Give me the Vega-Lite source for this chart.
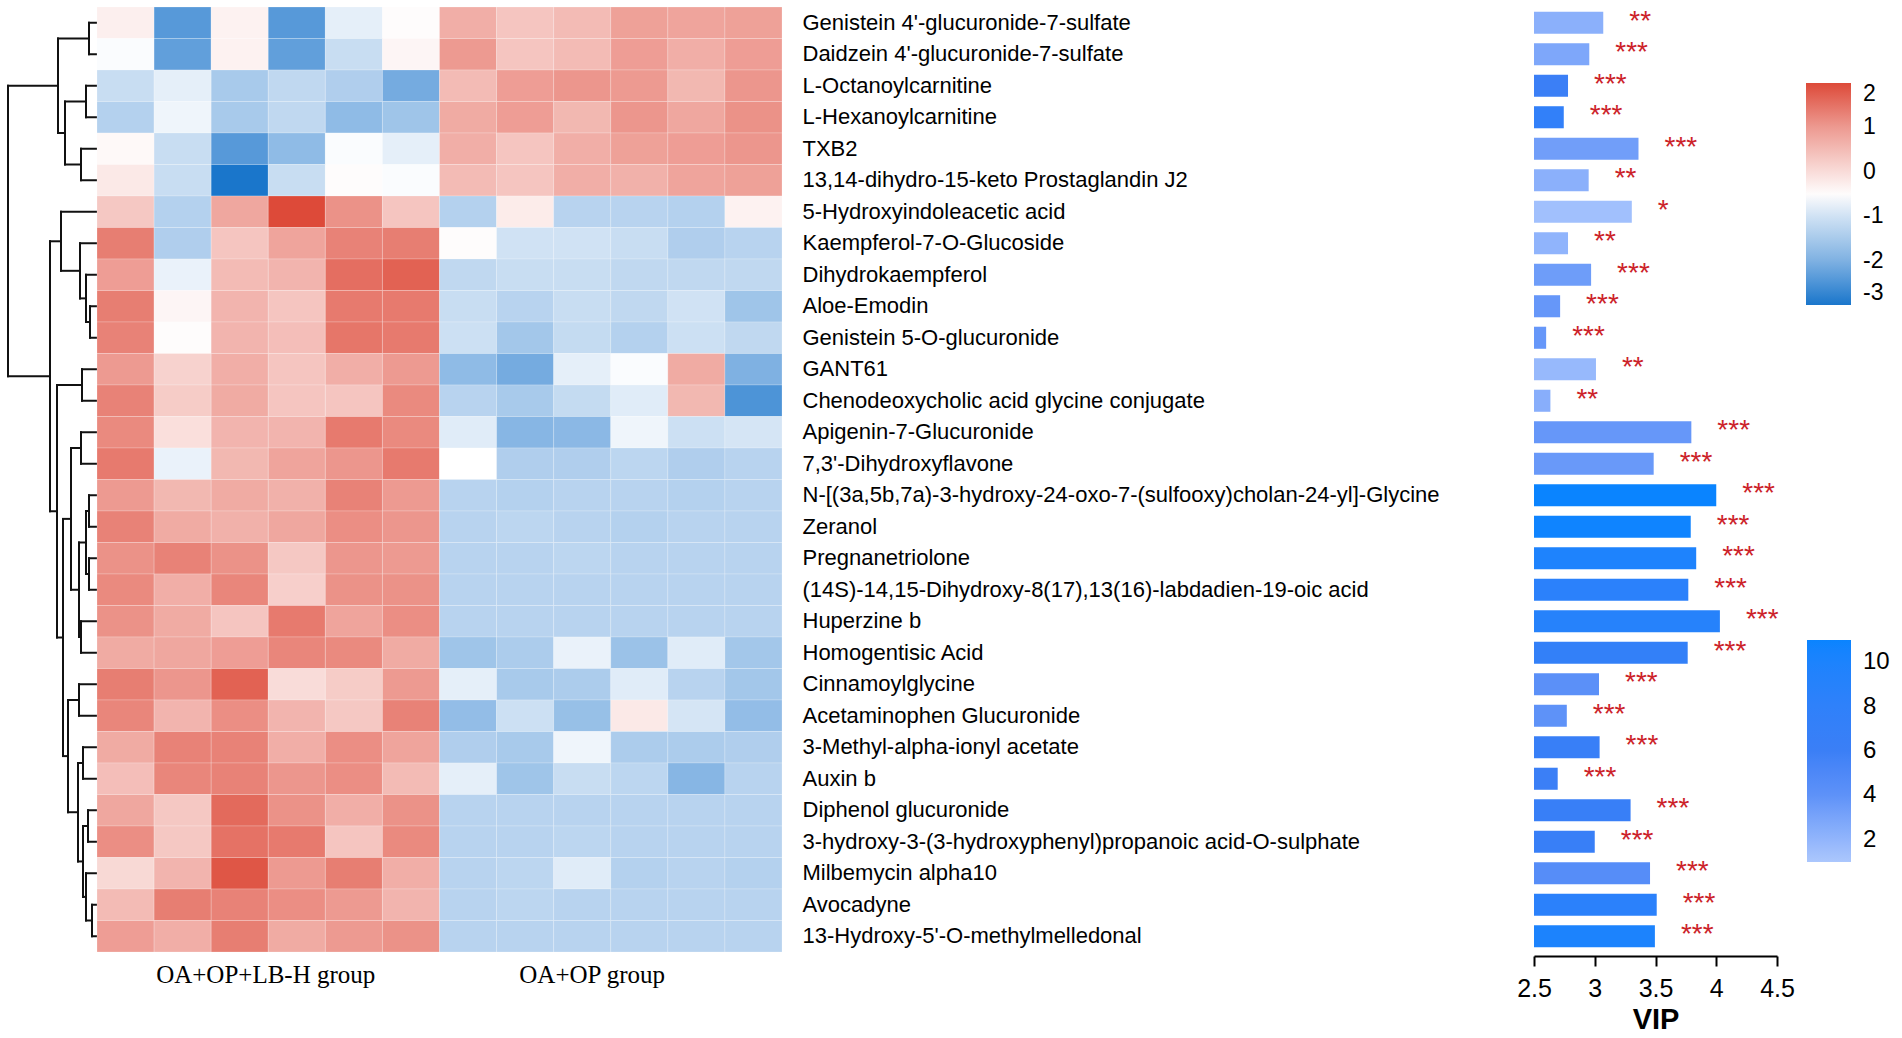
{
"$schema": "https://vega.github.io/schema/vega-lite/v6.json",
"background": "white",
"padding": {"left": 6, "top": 6, "right": 0, "bottom": 0},
"config": {"view": {"stroke": null}, "font": "Liberation Sans"},
"datasets": {
"vip": [
{"r":1,"name":"Genistein 4'-glucuronide-7-sulfate","vip":3.07,"c":2.3,"sig":"**"},
{"r":2,"name":"Daidzein 4'-glucuronide-7-sulfate","vip":2.955,"c":2.8,"sig":"***"},
{"r":3,"name":"L-Octanoylcarnitine","vip":2.78,"c":6,"sig":"***"},
{"r":4,"name":"L-Hexanoylcarnitine","vip":2.745,"c":7.5,"sig":"***"},
{"r":5,"name":"TXB2","vip":3.36,"c":3.3,"sig":"***"},
{"r":6,"name":"13,14-dihydro-15-keto Prostaglandin J2","vip":2.95,"c":2.3,"sig":"**"},
{"r":7,"name":"5-Hydroxyindoleacetic acid","vip":3.305,"c":1.4,"sig":"*"},
{"r":8,"name":"Kaempferol-7-O-Glucoside","vip":2.78,"c":2.1,"sig":"**"},
{"r":9,"name":"Dihydrokaempferol","vip":2.97,"c":3.4,"sig":"***"},
{"r":10,"name":"Aloe-Emodin","vip":2.715,"c":3.7,"sig":"***"},
{"r":11,"name":"Genistein 5-O-glucuronide","vip":2.6,"c":3.7,"sig":"***"},
{"r":12,"name":"GANT61","vip":3.01,"c":1.8,"sig":"**"},
{"r":13,"name":"Chenodeoxycholic acid glycine conjugate","vip":2.635,"c":2.4,"sig":"**"},
{"r":14,"name":"Apigenin-7-Glucuronide","vip":3.795,"c":3.7,"sig":"***"},
{"r":15,"name":"7,3'-Dihydroxyflavone","vip":3.485,"c":3.6,"sig":"***"},
{"r":16,"name":"N-[(3a,5b,7a)-3-hydroxy-24-oxo-7-(sulfooxy)cholan-24-yl]-Glycine","vip":4.0,"c":11,"sig":"***"},
{"r":17,"name":"Zeranol","vip":3.79,"c":10.8,"sig":"***"},
{"r":18,"name":"Pregnanetriolone","vip":3.835,"c":9.8,"sig":"***"},
{"r":19,"name":"(14S)-14,15-Dihydroxy-8(17),13(16)-labdadien-19-oic acid","vip":3.77,"c":8.5,"sig":"***"},
{"r":20,"name":"Huperzine b","vip":4.03,"c":9,"sig":"***"},
{"r":21,"name":"Homogentisic Acid","vip":3.765,"c":7.3,"sig":"***"},
{"r":22,"name":"Cinnamoylglycine","vip":3.035,"c":4.2,"sig":"***"},
{"r":23,"name":"Acetaminophen Glucuronide","vip":2.77,"c":4,"sig":"***"},
{"r":24,"name":"3-Methyl-alpha-ionyl acetate","vip":3.04,"c":6.5,"sig":"***"},
{"r":25,"name":"Auxin b","vip":2.695,"c":6,"sig":"***"},
{"r":26,"name":"Diphenol glucuronide","vip":3.295,"c":6.5,"sig":"***"},
{"r":27,"name":"3-hydroxy-3-(3-hydroxyphenyl)propanoic acid-O-sulphate","vip":3.0,"c":6.5,"sig":"***"},
{"r":28,"name":"Milbemycin alpha10","vip":3.455,"c":4.5,"sig":"***"},
{"r":29,"name":"Avocadyne","vip":3.51,"c":8.5,"sig":"***"},
{"r":30,"name":"13-Hydroxy-5'-O-methylmelledonal","vip":3.495,"c":10,"sig":"***"}
],
"heat": [
{"r":1,"s":"H1","v":-0.3},{"r":1,"s":"H2","v":-2.4},{"r":1,"s":"H3","v":-0.35},{"r":1,"s":"H4","v":-2.4},{"r":1,"s":"H5","v":-0.8},{"r":1,"s":"H6","v":-0.5},{"r":1,"s":"M1","v":0.7},{"r":1,"s":"M2","v":0.35},{"r":1,"s":"M3","v":0.5},{"r":1,"s":"M4","v":0.9},{"r":1,"s":"M5","v":0.85},{"r":1,"s":"M6","v":0.9},
{"r":2,"s":"H1","v":-0.6},{"r":2,"s":"H2","v":-2.3},{"r":2,"s":"H3","v":-0.35},{"r":2,"s":"H4","v":-2.3},{"r":2,"s":"H5","v":-1.1},{"r":2,"s":"H6","v":-0.4},{"r":2,"s":"M1","v":1.0},{"r":2,"s":"M2","v":0.35},{"r":2,"s":"M3","v":0.5},{"r":2,"s":"M4","v":0.95},{"r":2,"s":"M5","v":0.7},{"r":2,"s":"M6","v":0.95},
{"r":3,"s":"H1","v":-1.1},{"r":3,"s":"H2","v":-0.8},{"r":3,"s":"H3","v":-1.5},{"r":3,"s":"H4","v":-1.2},{"r":3,"s":"H5","v":-1.4},{"r":3,"s":"H6","v":-2.1},{"r":3,"s":"M1","v":0.5},{"r":3,"s":"M2","v":0.95},{"r":3,"s":"M3","v":1.05},{"r":3,"s":"M4","v":1.0},{"r":3,"s":"M5","v":0.55},{"r":3,"s":"M6","v":1.05},
{"r":4,"s":"H1","v":-1.35},{"r":4,"s":"H2","v":-0.7},{"r":4,"s":"H3","v":-1.5},{"r":4,"s":"H4","v":-1.2},{"r":4,"s":"H5","v":-1.8},{"r":4,"s":"H6","v":-1.6},{"r":4,"s":"M1","v":0.75},{"r":4,"s":"M2","v":0.95},{"r":4,"s":"M3","v":0.55},{"r":4,"s":"M4","v":1.05},{"r":4,"s":"M5","v":0.8},{"r":4,"s":"M6","v":1.1},
{"r":5,"s":"H1","v":-0.45},{"r":5,"s":"H2","v":-1.1},{"r":5,"s":"H3","v":-2.4},{"r":5,"s":"H4","v":-1.8},{"r":5,"s":"H5","v":-0.6},{"r":5,"s":"H6","v":-0.8},{"r":5,"s":"M1","v":0.7},{"r":5,"s":"M2","v":0.35},{"r":5,"s":"M3","v":0.7},{"r":5,"s":"M4","v":0.9},{"r":5,"s":"M5","v":0.95},{"r":5,"s":"M6","v":1.05},
{"r":6,"s":"H1","v":-0.2},{"r":6,"s":"H2","v":-1.1},{"r":6,"s":"H3","v":-3.0},{"r":6,"s":"H4","v":-1.1},{"r":6,"s":"H5","v":-0.5},{"r":6,"s":"H6","v":-0.6},{"r":6,"s":"M1","v":0.5},{"r":6,"s":"M2","v":0.35},{"r":6,"s":"M3","v":0.7},{"r":6,"s":"M4","v":0.65},{"r":6,"s":"M5","v":0.85},{"r":6,"s":"M6","v":0.9},
{"r":7,"s":"H1","v":0.3},{"r":7,"s":"H2","v":-1.35},{"r":7,"s":"H3","v":0.8},{"r":7,"s":"H4","v":2.0},{"r":7,"s":"H5","v":1.1},{"r":7,"s":"H6","v":0.35},{"r":7,"s":"M1","v":-1.35},{"r":7,"s":"M2","v":-0.25},{"r":7,"s":"M3","v":-1.3},{"r":7,"s":"M4","v":-1.3},{"r":7,"s":"M5","v":-1.35},{"r":7,"s":"M6","v":-0.35},
{"r":8,"s":"H1","v":1.35},{"r":8,"s":"H2","v":-1.4},{"r":8,"s":"H3","v":0.35},{"r":8,"s":"H4","v":0.85},{"r":8,"s":"H5","v":1.3},{"r":8,"s":"H6","v":1.35},{"r":8,"s":"M1","v":-0.5},{"r":8,"s":"M2","v":-1.0},{"r":8,"s":"M3","v":-1.0},{"r":8,"s":"M4","v":-1.1},{"r":8,"s":"M5","v":-1.4},{"r":8,"s":"M6","v":-1.3},
{"r":9,"s":"H1","v":0.95},{"r":9,"s":"H2","v":-0.75},{"r":9,"s":"H3","v":0.5},{"r":9,"s":"H4","v":0.6},{"r":9,"s":"H5","v":1.55},{"r":9,"s":"H6","v":1.7},{"r":9,"s":"M1","v":-1.2},{"r":9,"s":"M2","v":-1.1},{"r":9,"s":"M3","v":-1.1},{"r":9,"s":"M4","v":-1.2},{"r":9,"s":"M5","v":-1.2},{"r":9,"s":"M6","v":-1.2},
{"r":10,"s":"H1","v":1.35},{"r":10,"s":"H2","v":-0.4},{"r":10,"s":"H3","v":0.6},{"r":10,"s":"H4","v":0.35},{"r":10,"s":"H5","v":1.4},{"r":10,"s":"H6","v":1.4},{"r":10,"s":"M1","v":-1.1},{"r":10,"s":"M2","v":-1.3},{"r":10,"s":"M3","v":-1.1},{"r":10,"s":"M4","v":-1.2},{"r":10,"s":"M5","v":-1.0},{"r":10,"s":"M6","v":-1.6},
{"r":11,"s":"H1","v":1.3},{"r":11,"s":"H2","v":-0.5},{"r":11,"s":"H3","v":0.6},{"r":11,"s":"H4","v":0.45},{"r":11,"s":"H5","v":1.45},{"r":11,"s":"H6","v":1.4},{"r":11,"s":"M1","v":-1.05},{"r":11,"s":"M2","v":-1.55},{"r":11,"s":"M3","v":-1.15},{"r":11,"s":"M4","v":-1.35},{"r":11,"s":"M5","v":-1.05},{"r":11,"s":"M6","v":-1.2},
{"r":12,"s":"H1","v":1.0},{"r":12,"s":"H2","v":0.15},{"r":12,"s":"H3","v":0.7},{"r":12,"s":"H4","v":0.35},{"r":12,"s":"H5","v":0.7},{"r":12,"s":"H6","v":1.0},{"r":12,"s":"M1","v":-1.8},{"r":12,"s":"M2","v":-2.1},{"r":12,"s":"M3","v":-0.8},{"r":12,"s":"M4","v":-0.6},{"r":12,"s":"M5","v":0.75},{"r":12,"s":"M6","v":-2.0},
{"r":13,"s":"H1","v":1.3},{"r":13,"s":"H2","v":0.25},{"r":13,"s":"H3","v":0.75},{"r":13,"s":"H4","v":0.35},{"r":13,"s":"H5","v":0.35},{"r":13,"s":"H6","v":1.2},{"r":13,"s":"M1","v":-1.3},{"r":13,"s":"M2","v":-1.5},{"r":13,"s":"M3","v":-1.15},{"r":13,"s":"M4","v":-0.85},{"r":13,"s":"M5","v":0.55},{"r":13,"s":"M6","v":-2.5},
{"r":14,"s":"H1","v":1.2},{"r":14,"s":"H2","v":-0.05},{"r":14,"s":"H3","v":0.6},{"r":14,"s":"H4","v":0.6},{"r":14,"s":"H5","v":1.4},{"r":14,"s":"H6","v":1.2},{"r":14,"s":"M1","v":-0.85},{"r":14,"s":"M2","v":-1.9},{"r":14,"s":"M3","v":-1.85},{"r":14,"s":"M4","v":-0.7},{"r":14,"s":"M5","v":-1.05},{"r":14,"s":"M6","v":-0.95},
{"r":15,"s":"H1","v":1.4},{"r":15,"s":"H2","v":-0.75},{"r":15,"s":"H3","v":0.55},{"r":15,"s":"H4","v":0.85},{"r":15,"s":"H5","v":1.05},{"r":15,"s":"H6","v":1.4},{"r":15,"s":"M1","v":-0.55},{"r":15,"s":"M2","v":-1.4},{"r":15,"s":"M3","v":-1.4},{"r":15,"s":"M4","v":-1.25},{"r":15,"s":"M5","v":-1.4},{"r":15,"s":"M6","v":-1.3},
{"r":16,"s":"H1","v":1.0},{"r":16,"s":"H2","v":0.55},{"r":16,"s":"H3","v":0.75},{"r":16,"s":"H4","v":0.65},{"r":16,"s":"H5","v":1.3},{"r":16,"s":"H6","v":1.0},{"r":16,"s":"M1","v":-1.3},{"r":16,"s":"M2","v":-1.35},{"r":16,"s":"M3","v":-1.3},{"r":16,"s":"M4","v":-1.3},{"r":16,"s":"M5","v":-1.35},{"r":16,"s":"M6","v":-1.3},
{"r":17,"s":"H1","v":1.3},{"r":17,"s":"H2","v":0.75},{"r":17,"s":"H3","v":0.65},{"r":17,"s":"H4","v":0.8},{"r":17,"s":"H5","v":1.15},{"r":17,"s":"H6","v":1.05},{"r":17,"s":"M1","v":-1.3},{"r":17,"s":"M2","v":-1.25},{"r":17,"s":"M3","v":-1.3},{"r":17,"s":"M4","v":-1.35},{"r":17,"s":"M5","v":-1.3},{"r":17,"s":"M6","v":-1.3},
{"r":18,"s":"H1","v":1.1},{"r":18,"s":"H2","v":1.3},{"r":18,"s":"H3","v":1.1},{"r":18,"s":"H4","v":0.3},{"r":18,"s":"H5","v":1.05},{"r":18,"s":"H6","v":1.0},{"r":18,"s":"M1","v":-1.3},{"r":18,"s":"M2","v":-1.3},{"r":18,"s":"M3","v":-1.25},{"r":18,"s":"M4","v":-1.3},{"r":18,"s":"M5","v":-1.3},{"r":18,"s":"M6","v":-1.3},
{"r":19,"s":"H1","v":1.2},{"r":19,"s":"H2","v":0.7},{"r":19,"s":"H3","v":1.25},{"r":19,"s":"H4","v":0.2},{"r":19,"s":"H5","v":1.1},{"r":19,"s":"H6","v":1.1},{"r":19,"s":"M1","v":-1.3},{"r":19,"s":"M2","v":-1.3},{"r":19,"s":"M3","v":-1.3},{"r":19,"s":"M4","v":-1.3},{"r":19,"s":"M5","v":-1.3},{"r":19,"s":"M6","v":-1.3},
{"r":20,"s":"H1","v":1.1},{"r":20,"s":"H2","v":0.75},{"r":20,"s":"H3","v":0.35},{"r":20,"s":"H4","v":1.4},{"r":20,"s":"H5","v":0.85},{"r":20,"s":"H6","v":1.15},{"r":20,"s":"M1","v":-1.3},{"r":20,"s":"M2","v":-1.3},{"r":20,"s":"M3","v":-1.3},{"r":20,"s":"M4","v":-1.3},{"r":20,"s":"M5","v":-1.3},{"r":20,"s":"M6","v":-1.3},
{"r":21,"s":"H1","v":0.75},{"r":21,"s":"H2","v":0.8},{"r":21,"s":"H3","v":0.95},{"r":21,"s":"H4","v":1.25},{"r":21,"s":"H5","v":1.2},{"r":21,"s":"H6","v":0.75},{"r":21,"s":"M1","v":-1.6},{"r":21,"s":"M2","v":-1.45},{"r":21,"s":"M3","v":-0.75},{"r":21,"s":"M4","v":-1.65},{"r":21,"s":"M5","v":-0.85},{"r":21,"s":"M6","v":-1.55},
{"r":22,"s":"H1","v":1.35},{"r":22,"s":"H2","v":1.05},{"r":22,"s":"H3","v":1.7},{"r":22,"s":"H4","v":0.0},{"r":22,"s":"H5","v":0.25},{"r":22,"s":"H6","v":1.0},{"r":22,"s":"M1","v":-0.8},{"r":22,"s":"M2","v":-1.5},{"r":22,"s":"M3","v":-1.45},{"r":22,"s":"M4","v":-0.85},{"r":22,"s":"M5","v":-1.3},{"r":22,"s":"M6","v":-1.55},
{"r":23,"s":"H1","v":1.25},{"r":23,"s":"H2","v":0.6},{"r":23,"s":"H3","v":1.15},{"r":23,"s":"H4","v":0.6},{"r":23,"s":"H5","v":0.3},{"r":23,"s":"H6","v":1.3},{"r":23,"s":"M1","v":-1.75},{"r":23,"s":"M2","v":-1.05},{"r":23,"s":"M3","v":-1.7},{"r":23,"s":"M4","v":-0.2},{"r":23,"s":"M5","v":-0.95},{"r":23,"s":"M6","v":-1.75},
{"r":24,"s":"H1","v":0.75},{"r":24,"s":"H2","v":1.3},{"r":24,"s":"H3","v":1.3},{"r":24,"s":"H4","v":0.7},{"r":24,"s":"H5","v":1.15},{"r":24,"s":"H6","v":0.85},{"r":24,"s":"M1","v":-1.4},{"r":24,"s":"M2","v":-1.5},{"r":24,"s":"M3","v":-0.7},{"r":24,"s":"M4","v":-1.45},{"r":24,"s":"M5","v":-1.45},{"r":24,"s":"M6","v":-1.4},
{"r":25,"s":"H1","v":0.45},{"r":25,"s":"H2","v":1.25},{"r":25,"s":"H3","v":1.3},{"r":25,"s":"H4","v":1.05},{"r":25,"s":"H5","v":1.15},{"r":25,"s":"H6","v":0.5},{"r":25,"s":"M1","v":-0.8},{"r":25,"s":"M2","v":-1.6},{"r":25,"s":"M3","v":-1.1},{"r":25,"s":"M4","v":-1.25},{"r":25,"s":"M5","v":-1.9},{"r":25,"s":"M6","v":-1.3},
{"r":26,"s":"H1","v":0.8},{"r":26,"s":"H2","v":0.3},{"r":26,"s":"H3","v":1.6},{"r":26,"s":"H4","v":1.1},{"r":26,"s":"H5","v":0.7},{"r":26,"s":"H6","v":1.1},{"r":26,"s":"M1","v":-1.3},{"r":26,"s":"M2","v":-1.3},{"r":26,"s":"M3","v":-1.3},{"r":26,"s":"M4","v":-1.3},{"r":26,"s":"M5","v":-1.3},{"r":26,"s":"M6","v":-1.3},
{"r":27,"s":"H1","v":1.15},{"r":27,"s":"H2","v":0.3},{"r":27,"s":"H3","v":1.5},{"r":27,"s":"H4","v":1.4},{"r":27,"s":"H5","v":0.35},{"r":27,"s":"H6","v":1.2},{"r":27,"s":"M1","v":-1.3},{"r":27,"s":"M2","v":-1.3},{"r":27,"s":"M3","v":-1.25},{"r":27,"s":"M4","v":-1.3},{"r":27,"s":"M5","v":-1.3},{"r":27,"s":"M6","v":-1.3},
{"r":28,"s":"H1","v":0.05},{"r":28,"s":"H2","v":0.6},{"r":28,"s":"H3","v":1.85},{"r":28,"s":"H4","v":1.0},{"r":28,"s":"H5","v":1.35},{"r":28,"s":"H6","v":0.7},{"r":28,"s":"M1","v":-1.3},{"r":28,"s":"M2","v":-1.25},{"r":28,"s":"M3","v":-0.85},{"r":28,"s":"M4","v":-1.35},{"r":28,"s":"M5","v":-1.3},{"r":28,"s":"M6","v":-1.35},
{"r":29,"s":"H1","v":0.5},{"r":29,"s":"H2","v":1.35},{"r":29,"s":"H3","v":1.3},{"r":29,"s":"H4","v":1.15},{"r":29,"s":"H5","v":1.0},{"r":29,"s":"H6","v":0.6},{"r":29,"s":"M1","v":-1.3},{"r":29,"s":"M2","v":-1.25},{"r":29,"s":"M3","v":-1.3},{"r":29,"s":"M4","v":-1.3},{"r":29,"s":"M5","v":-1.3},{"r":29,"s":"M6","v":-1.3},
{"r":30,"s":"H1","v":0.95},{"r":30,"s":"H2","v":0.7},{"r":30,"s":"H3","v":1.35},{"r":30,"s":"H4","v":0.75},{"r":30,"s":"H5","v":1.0},{"r":30,"s":"H6","v":1.1},{"r":30,"s":"M1","v":-1.3},{"r":30,"s":"M2","v":-1.3},{"r":30,"s":"M3","v":-1.3},{"r":30,"s":"M4","v":-1.3},{"r":30,"s":"M5","v":-1.3},{"r":30,"s":"M6","v":-1.3}
],
"dendro": [
{"h":8,"h2":8,"y":0.5,"y2":1.5},{"h":8,"h2":0,"y":0.5,"y2":0.5},{"h":8,"h2":0,"y":1.5,"y2":1.5},
{"h":11,"h2":11,"y":2.5,"y2":3.5},{"h":11,"h2":0,"y":2.5,"y2":2.5},{"h":11,"h2":0,"y":3.5,"y2":3.5},
{"h":16,"h2":16,"y":4.5,"y2":5.5},{"h":16,"h2":0,"y":4.5,"y2":4.5},{"h":16,"h2":0,"y":5.5,"y2":5.5},
{"h":32,"h2":32,"y":3.0,"y2":5.0},{"h":32,"h2":11,"y":3.0,"y2":3.0},{"h":32,"h2":16,"y":5.0,"y2":5.0},
{"h":39,"h2":39,"y":1.0,"y2":4.0},{"h":39,"h2":8,"y":1.0,"y2":1.0},{"h":39,"h2":32,"y":4.0,"y2":4.0},
{"h":7,"h2":7,"y":9.5,"y2":10.5},{"h":7,"h2":0,"y":9.5,"y2":9.5},{"h":7,"h2":0,"y":10.5,"y2":10.5},
{"h":11,"h2":11,"y":8.5,"y2":10.0},{"h":11,"h2":0,"y":8.5,"y2":8.5},{"h":11,"h2":7,"y":10.0,"y2":10.0},
{"h":17,"h2":17,"y":7.5,"y2":9.25},{"h":17,"h2":0,"y":7.5,"y2":7.5},{"h":17,"h2":11,"y":9.25,"y2":9.25},
{"h":36,"h2":36,"y":6.5,"y2":8.375},{"h":36,"h2":0,"y":6.5,"y2":6.5},{"h":36,"h2":17,"y":8.375,"y2":8.375},
{"h":15,"h2":15,"y":11.5,"y2":12.5},{"h":15,"h2":0,"y":11.5,"y2":11.5},{"h":15,"h2":0,"y":12.5,"y2":12.5},
{"h":16,"h2":16,"y":13.5,"y2":14.5},{"h":16,"h2":0,"y":13.5,"y2":13.5},{"h":16,"h2":0,"y":14.5,"y2":14.5},
{"h":8,"h2":8,"y":15.5,"y2":16.5},{"h":8,"h2":0,"y":15.5,"y2":15.5},{"h":8,"h2":0,"y":16.5,"y2":16.5},
{"h":8,"h2":8,"y":17.5,"y2":18.5},{"h":8,"h2":0,"y":17.5,"y2":17.5},{"h":8,"h2":0,"y":18.5,"y2":18.5},
{"h":11,"h2":11,"y":16.0,"y2":18.0},{"h":11,"h2":8,"y":16.0,"y2":16.0},{"h":11,"h2":8,"y":18.0,"y2":18.0},
{"h":16,"h2":16,"y":19.5,"y2":20.5},{"h":16,"h2":0,"y":19.5,"y2":19.5},{"h":16,"h2":0,"y":20.5,"y2":20.5},
{"h":18,"h2":18,"y":17.0,"y2":20.0},{"h":18,"h2":11,"y":17.0,"y2":17.0},{"h":18,"h2":16,"y":20.0,"y2":20.0},
{"h":26,"h2":26,"y":14.0,"y2":18.5},{"h":26,"h2":16,"y":14.0,"y2":14.0},{"h":26,"h2":18,"y":18.5,"y2":18.5},
{"h":18,"h2":18,"y":21.5,"y2":22.5},{"h":18,"h2":0,"y":21.5,"y2":21.5},{"h":18,"h2":0,"y":22.5,"y2":22.5},
{"h":14,"h2":14,"y":23.5,"y2":24.5},{"h":14,"h2":0,"y":23.5,"y2":23.5},{"h":14,"h2":0,"y":24.5,"y2":24.5},
{"h":9,"h2":9,"y":25.5,"y2":26.5},{"h":9,"h2":0,"y":25.5,"y2":25.5},{"h":9,"h2":0,"y":26.5,"y2":26.5},
{"h":5,"h2":5,"y":28.5,"y2":29.5},{"h":5,"h2":0,"y":28.5,"y2":28.5},{"h":5,"h2":0,"y":29.5,"y2":29.5},
{"h":11,"h2":11,"y":27.5,"y2":29.0},{"h":11,"h2":0,"y":27.5,"y2":27.5},{"h":11,"h2":5,"y":29.0,"y2":29.0},
{"h":14,"h2":14,"y":26.0,"y2":28.25},{"h":14,"h2":9,"y":26.0,"y2":26.0},{"h":14,"h2":11,"y":28.25,"y2":28.25},
{"h":19,"h2":19,"y":24.0,"y2":27.125},{"h":19,"h2":14,"y":24.0,"y2":24.0},{"h":19,"h2":14,"y":27.125,"y2":27.125},
{"h":29,"h2":29,"y":22.0,"y2":25.5625},{"h":29,"h2":18,"y":22.0,"y2":22.0},{"h":29,"h2":19,"y":25.5625,"y2":25.5625},
{"h":34,"h2":34,"y":16.25,"y2":23.781},{"h":34,"h2":26,"y":16.25,"y2":16.25},{"h":34,"h2":29,"y":23.781,"y2":23.781},
{"h":40,"h2":40,"y":12.0,"y2":20.016},{"h":40,"h2":15,"y":12.0,"y2":12.0},{"h":40,"h2":34,"y":20.016,"y2":20.016},
{"h":47,"h2":47,"y":7.4375,"y2":16.008},{"h":47,"h2":36,"y":7.4375,"y2":7.4375},{"h":47,"h2":40,"y":16.008,"y2":16.008},
{"h":89,"h2":89,"y":2.5,"y2":11.723},{"h":89,"h2":39,"y":2.5,"y2":2.5},{"h":89,"h2":47,"y":11.723,"y2":11.723}
]
},
"hconcat": [
{
"width": 776,
"height": 945,
"layer": [
{
"data": {"name": "dendro"},
"mark": {"type": "rule", "stroke": "#111111", "strokeWidth": 2, "strokeCap": "square"},
"encoding": {
"x": {"field": "h", "type": "quantitative", "scale": {"domain": [91, 0], "range": [0, 91]}, "axis": null},
"x2": {"field": "h2"},
"y": {"field": "y", "type": "quantitative", "scale": {"domain": [0, 30], "range": [0, 945]}, "axis": null},
"y2": {"field": "y2"}
}
},
{
"data": {"name": "heat"},
"transform": [{"lookup": "r", "from": {"data": {"name": "vip"}, "key": "r", "fields": ["name"]}}],
"mark": {"type": "rect", "stroke": "#ffffff", "strokeWidth": 0.6, "strokeOpacity": 0.35},
"encoding": {
"x": {"field": "s", "type": "nominal", "sort": null, "scale": {"range": [91, 776], "paddingInner": 0, "paddingOuter": 0},
"axis": {"values": ["H3", "M3"], "labelExpr": "datum.value == 'H3' ? 'OA+OP+LB-H group' : 'OA+OP group'", "ticks": false, "tickSize": 0, "domain": false, "labelFont": "Liberation Serif", "labelFontSize": 25, "labelColor": "black", "labelPadding": 30, "labelBaseline": "alphabetic", "labelAngle": 0, "labelLimit": 1000, "labelOverlap": false, "labelOffset": {"condition": {"test": "datum.value == 'H3'", "value": 26}, "value": 10}, "title": null}},
"y": {"field": "name", "type": "nominal", "sort": null, "scale": {"paddingInner": 0, "paddingOuter": 0},
"axis": {"orient": "right", "ticks": false, "tickSize": 0, "domain": false, "labelPadding": 20, "labelFont": "Liberation Sans", "labelFontSize": 22, "labelColor": "black", "labelLimit": 1000, "title": null}},
"color": {"field": "v", "type": "quantitative",
"scale": {"domain": [-3, -2, -1, -0.55, 0, 1, 2], "range": ["#1a76cb", "#7fb1e2", "#d0e2f4", "#ffffff", "#f9dcd9", "#ed9a91", "#dd4a39"], "interpolate": "rgb"},
"legend": {"orient": "none", "legendX": 1800, "legendY": 76, "direction": "vertical", "gradientLength": 222, "gradientThickness": 45, "title": null, "values": [2, 1, 0, -1, -2, -3], "labelExpr": "'' + datum.value", "labelFontSize": 23, "labelColor": "black", "labelOffset": 12, "labelBaseline": "middle", "gradientStrokeWidth": 0, "padding": 0}}
}
}
],
"resolve": {"scale": {"x": "independent", "y": "independent"}}
},
{
"width": 243,
"height": 945,
"data": {"name": "vip"},
"layer": [
{
"mark": {"type": "bar"},
"encoding": {
"x": {"field": "vip", "type": "quantitative", "scale": {"domain": [2.5, 4.5], "zero": false, "nice": false},
"axis": {"values": [2.5, 3, 3.5, 4, 4.5], "format": "~g", "grid": false, "offset": 4, "domainColor": "black", "domainWidth": 2, "tickColor": "black", "tickWidth": 2, "tickSize": 10, "labelFontSize": 25, "labelColor": "black", "labelPadding": 10, "labelFlush": false, "title": "VIP", "titleFontSize": 29, "titleFontWeight": "bold", "titleColor": "black", "titlePadding": 4}},
"x2": {"datum": 2.5},
"y": {"field": "name", "type": "nominal", "sort": null, "scale": {"paddingInner": 0.3, "paddingOuter": 0.15}, "axis": null},
"color": {"field": "c", "type": "quantitative",
"scale": {"domain": [1, 4, 6, 11], "range": ["#abc7fd", "#5e92f8", "#3b7ff6", "#0a84ff"]},
"legend": {"orient": "none", "legendX": 273, "legendY": 633, "direction": "vertical", "gradientLength": 222, "gradientThickness": 44, "title": null, "values": [10, 8, 6, 4, 2], "labelFontSize": 24, "labelColor": "black", "labelOffset": 12, "labelBaseline": "middle", "gradientStrokeWidth": 0, "padding": 0}}
}
},
{
"mark": {"type": "text", "align": "left", "baseline": "middle", "dx": 26, "dy": -1, "fontSize": 28, "color": "#cc2229"},
"encoding": {
"x": {"field": "vip", "type": "quantitative"},
"y": {"field": "name", "type": "nominal", "sort": null},
"text": {"field": "sig"}
}
}
]
}
],
"spacing": 752,
"bounds": "flush",
"resolve": {"scale": {"color": "independent", "x": "independent", "y": "independent"}, "legend": {"color": "independent"}}
}
